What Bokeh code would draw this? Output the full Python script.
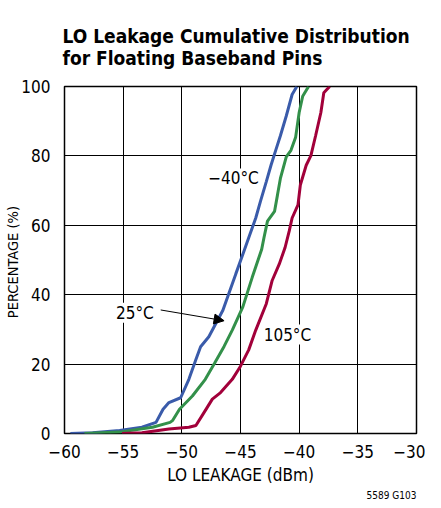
from bokeh.plotting import figure
from bokeh.models import Title, Label, Arrow, NormalHead, FixedTicker
from bokeh.embed import file_html
from bokeh.resources import INLINE

FONT = "DejaVu Sans Condensed"

title_lines = ["LO Leakage Cumulative Distribution", "for Floating Baseband Pins"]
figure_code = "5589 G103"
x_label = "LO LEAKAGE (dBm)"
y_label = "PERCENTAGE  (%)"

blue_x = [-59.5, -57.6, -55.3, -53.4, -52.2, -51.6, -51.1, -50.1, -49.4, -48.8, -48.4, -47.7, -47.1,
          -46.5, -46.0, -45.4, -44.7, -44.3, -43.7, -43.3, -42.8, -42.4, -42.0, -41.6, -41.1, -40.6, -40.2]
blue_y = [0, 0.2, 0.9, 1.8, 3.2, 7.0, 8.9, 10.3, 15.6, 21.3, 25.0, 27.9, 31.7,
          35.5, 40.3, 46.0, 52.6, 56.4, 62.1, 66.9, 72.6, 77.3, 81.6, 85.8, 91.5, 97.7, 100]

green_x = [-58.3, -55.3, -52.5, -51.0, -50.8, -50.2, -49.1, -48.0, -47.2, -46.4, -45.7, -44.8, -44.0,
           -43.2, -43.0, -42.7, -42.1, -41.85, -41.6, -41.1, -40.7, -40.3, -40.0, -39.7, -39.2]
green_y = [0, 0.4, 1.8, 3.2, 3.7, 7.0, 10.8, 15.6, 20.3, 25.1, 29.8, 36.5, 45.0,
           53.0, 56.4, 61.2, 64.0, 68.7, 73.5, 79.7, 81.6, 85.4, 92.5, 97.2, 100]

red_x = [-55.1, -53.4, -51.1, -49.4, -48.8, -48.1, -47.4, -46.7, -45.7, -45.0, -44.3, -43.7, -42.8,
         -42.3, -41.7, -41.2, -40.85, -40.6, -40.1, -39.9, -39.4, -39.0, -38.6, -38.15, -37.9, -37.4]
red_y = [0, 0.2, 1.3, 1.8, 2.3, 6.1, 9.9, 11.8, 15.6, 19.4, 24.1, 29.8, 37.4,
         44.1, 48.8, 53.6, 58.3, 62.1, 65.9, 71.6, 77.3, 80.1, 85.8, 92.5, 98.2, 100]

x_ticks = [-60, -55, -50, -45, -40, -35, -30]
y_ticks = [0, 20, 40, 60, 80, 100]

p = figure(width=425, height=500, x_range=(-60, -30), y_range=(0, 100),
           output_backend="svg", toolbar_location=None,
           min_border_left=64, min_border_right=9, min_border_bottom=64, min_border_top=86)

p.add_layout(Title(text="\n".join(title_lines), text_font=FONT, text_font_size="19px",
                   text_line_height=1.0, text_font_style="bold", text_color="black",
                   align="left", offset=-2, standoff=36), "above")
p.add_layout(Title(text=figure_code, text_font=FONT, text_font_size="10px", text_color="black",
                   text_font_style="normal", align="right", standoff=0), "below")
p.add_layout(Title(text=y_label, text_font=FONT, text_font_size="14.5px", text_color="black",
                   text_font_style="normal", align="center", standoff=-4), "left")

p.xaxis.ticker = FixedTicker(ticks=x_ticks)
p.yaxis.ticker = FixedTicker(ticks=y_ticks)
p.xaxis.major_label_overrides = {t: ("\u2212" + str(-t)) for t in x_ticks}
for ax in (p.xaxis[0], p.yaxis[0]):
    ax.major_tick_line_color = None
    ax.minor_tick_line_color = None
    ax.axis_line_color = None
    ax.major_label_text_font = FONT
    ax.major_label_text_font_size = "17px"
    ax.major_label_text_color = "black"
    ax.axis_label_text_font = FONT
    ax.axis_label_text_font_style = "normal"
    ax.axis_label_text_color = "black"
p.xaxis.axis_label = x_label
p.xaxis.axis_label_text_font_size = "17px"
p.xaxis.major_label_standoff = 5
p.xaxis.axis_label_standoff = 4
p.yaxis.major_label_standoff = 8

p.xgrid.grid_line_color = "black"
p.ygrid.grid_line_color = "black"
p.xgrid.grid_line_alpha = 1
p.ygrid.grid_line_alpha = 1
p.outline_line_color = "black"
p.outline_line_width = 1.5
p.outline_line_alpha = 1

p.line(blue_x, blue_y, line_color="#3A5BAA", line_width=3)
p.line(green_x, green_y, line_color="#33904A", line_width=3)
p.line(red_x, red_y, line_color="#A2003A", line_width=3)

lab_style = dict(text_font=FONT, text_font_size="17px", text_color="black",
                 background_fill_color="white", text_align="center", text_baseline="middle")
p.add_layout(Label(x=-45.6, y=73.5, text="\u221240\u00b0C", **lab_style))
p.add_layout(Label(x=-54.0, y=34.8, text="25\u00b0C", **lab_style))
p.add_layout(Label(x=-41.0, y=28.5, text="105\u00b0C", **lab_style))
p.add_layout(Arrow(x_start=-51.8, y_start=35.6, x_end=-46.4, y_end=32.5, line_color="black", line_width=1,
                   end=NormalHead(size=10, fill_color="black", line_color="black")))

open("out.html", "w").write(file_html(p, INLINE))
